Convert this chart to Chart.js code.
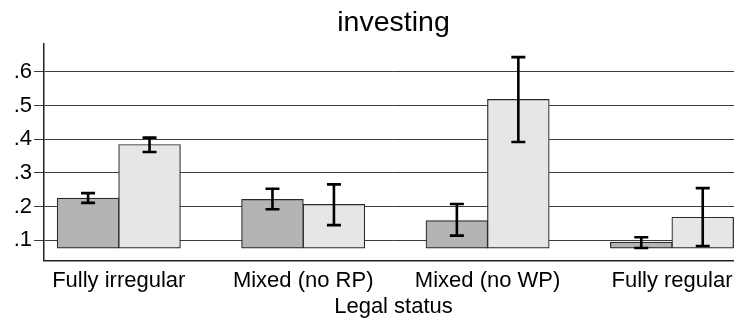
<!DOCTYPE html>
<html>
<head>
<meta charset="utf-8">
<script src="https://cdn.jsdelivr.net/npm/chart.js@4/dist/chart.umd.min.js"></script>
<style>
  html, body { margin: 0; padding: 0; background: #fff; overflow: hidden; }
  #wrap { width: 746px; height: 323px; }
</style>
</head>
<body>
<div id="wrap"><canvas id="c" width="746" height="323"></canvas></div>
<script>
// Groups along the horizontal axis
const categories = ['Fully irregular', 'Mixed (no RP)', 'Mixed (no WP)', 'Fully regular'];

// Dark series: mean and confidence interval
const darkValues = [0.225, 0.221, 0.158, 0.094];
const darkLow    = [0.211, 0.192, 0.114, 0.077];
const darkHigh   = [0.240, 0.253, 0.208, 0.109];

// Light series: mean and confidence interval
const lightValues = [0.384, 0.206, 0.518, 0.168];
const lightLow    = [0.362, 0.145, 0.392, 0.083];
const lightHigh   = [0.405, 0.266, 0.644, 0.255];

// Value axis
const yTicks = [0.1, 0.2, 0.3, 0.4, 0.5, 0.6];
const yMin = 0.0394;
const yMax = 0.685;
const barBase = 0.077;

const FONT = "'Liberation Sans', Arial, Helvetica, sans-serif";

const toPoints = vals => vals.map((v, i) => ({ x: i, y: v }));

// Whiskers with caps, placed through the value scale
const errorBars = {
  id: 'errorBars',
  afterDatasetsDraw(chart) {
    const ctx = chart.ctx;
    const y = chart.scales.y;
    chart.data.datasets.forEach((ds, di) => {
      const meta = chart.getDatasetMeta(di);
      meta.data.forEach((bar, i) => {
        const x = bar.x;
        const top = y.getPixelForValue(ds.errHigh[i]);
        const bot = y.getPixelForValue(ds.errLow[i]);
        const half = 7;
        ctx.save();
        ctx.strokeStyle = '#000';
        ctx.lineWidth = 2.6;
        ctx.lineCap = 'butt';
        ctx.beginPath();
        ctx.moveTo(x, top); ctx.lineTo(x, bot);
        ctx.moveTo(x - half, top); ctx.lineTo(x + half, top);
        ctx.moveTo(x - half, bot); ctx.lineTo(x + half, bot);
        ctx.stroke();
        ctx.restore();
      });
    });
  }
};

new Chart(document.getElementById('c'), {
  type: 'bar',
  data: {
    datasets: [
      {
        data: toPoints(darkValues),
        errLow: darkLow,
        errHigh: darkHigh,
        base: barBase,
        backgroundColor: '#b4b4b4',
        borderColor: '#2a2a2a',
        borderWidth: 1.2,
        borderSkipped: false,
        inflateAmount: 0.5
      },
      {
        data: toPoints(lightValues),
        errLow: lightLow,
        errHigh: lightHigh,
        base: barBase,
        backgroundColor: '#e6e6e6',
        borderColor: '#2a2a2a',
        borderWidth: 1.2,
        borderSkipped: false,
        inflateAmount: 0.5
      }
    ]
  },
  options: {
    responsive: false,
    animation: false,
    devicePixelRatio: 1,
    layout: { padding: { left: 0, right: 3, top: 0, bottom: 0 } },
    datasets: { bar: { categoryPercentage: 2 / 3, barPercentage: 1 } },
    plugins: {
      legend: { display: false },
      tooltip: { enabled: false },
      title: {
        display: true,
        text: 'investing',
        fullSize: false,
        color: '#000',
        font: { family: FONT, size: 28.5, weight: 'normal', lineHeight: 1.2 },
        padding: { top: 6.3, bottom: 2.8 }
      }
    },
    scales: {
      x: {
        type: 'linear',
        min: -0.4056,
        max: 3.385,
        offset: false,
        afterBuildTicks(scale) {
          scale.ticks = categories.map((_, i) => ({ value: i }));
        },
        afterFit(scale) { scale.height = 62.3; },
        ticks: {
          autoSkip: false,
          maxRotation: 0,
          padding: 7,
          color: '#000',
          font: { family: FONT, size: 22 },
          callback: v => categories[v]
        },
        grid: { display: false, drawTicks: false },
        border: { display: true, color: '#222', width: 1.5 },
        title: {
          display: true,
          text: 'Legal status',
          color: '#000',
          font: { family: FONT, size: 22 },
          padding: { top: 0, bottom: 2.7 }
        }
      },
      y: {
        min: yMin,
        max: yMax,
        afterBuildTicks(scale) {
          scale.ticks = yTicks.map(v => ({ value: v }));
        },
        afterFit(scale) { scale.width = 44; },
        ticks: {
          padding: 2,
          color: '#000',
          font: { family: FONT, size: 22 },
          callback: v => String(Math.round(v * 10) / 10).replace(/^0/, '')
        },
        grid: {
          color: '#3c3c3c',
          lineWidth: 1,
          tickLength: 10,
          tickColor: '#3c3c3c'
        },
        border: { display: true, color: '#222', width: 1.5 }
      }
    }
  },
  plugins: [errorBars]
});
</script>
</body>
</html>
